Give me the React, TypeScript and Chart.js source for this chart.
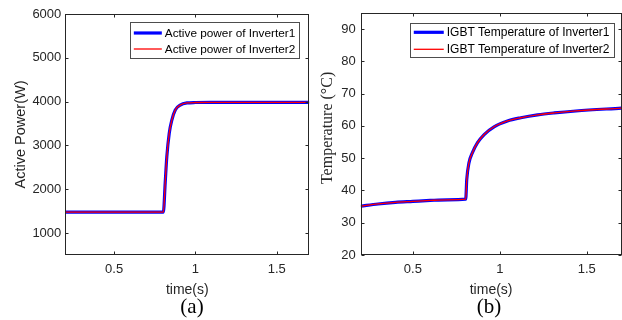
import React, { useEffect, useRef } from "react";
import { Chart, registerables } from "chart.js";

Chart.register(...registerables);

// ---------- data ----------
const powerTime = [0.2, 0.5, 0.803, 0.814, 0.824, 0.839, 0.855, 0.876, 0.906, 0.948, 1.0, 1.09, 1.4, 1.7];
const powerInv1 = [1480, 1480, 1480, 2140, 2740, 3280, 3580, 3810, 3920, 3970, 3980, 3983, 3983, 3983];
const powerInv2 = [1480, 1480, 1480, 2140, 2740, 3280, 3580, 3810, 3920, 3970, 3980, 3983, 3983, 3983];

const tempTime = [0.2, 0.3, 0.4, 0.5, 0.6, 0.7, 0.804, 0.81, 0.823, 0.842, 0.871, 0.91, 0.967, 1.044, 1.121, 1.217, 1.313, 1.438, 1.7];
const tempInv1 = [35.1, 35.8, 36.3, 36.6, 36.9, 37.1, 37.3, 43.4, 48.6, 51.6, 54.7, 57.3, 59.7, 61.5, 62.5, 63.4, 64.0, 64.6, 65.5];
const tempInv2 = [35.1, 35.8, 36.3, 36.6, 36.9, 37.1, 37.3, 43.4, 48.6, 51.6, 54.7, 57.3, 59.7, 61.5, 62.5, 63.4, 64.0, 64.6, 65.5];

const timeTicks = [0.5, 1, 1.5];
const powerTicks = [1000, 2000, 3000, 4000, 5000, 6000];
const tempTicks = [20, 30, 40, 50, 60, 70, 80, 90];

const powerLabels = ["Active power of Inverter1", "Active power of Inverter2"];
const tempLabels = ["IGBT Temperature of Inverter1", "IGBT Temperature of Inverter2"];

const SANS = '"Liberation Sans", Arial, Helvetica, sans-serif';
const SERIF = '"Liberation Serif", "Times New Roman", serif';
const AXIS = "#262626";

// ---------- plugins ----------
const framePlugin = {
  id: "frame",
  afterDraw(chart: any) {
    const { ctx, chartArea: a, scales } = chart;
    ctx.save();
    ctx.strokeStyle = AXIS;
    ctx.lineWidth = 1;
    const L = Math.round(a.left) + 0.5;
    const R = Math.round(a.right) - 0.5;
    const T = Math.round(a.top) + 0.5;
    const B = Math.round(a.bottom) - 0.5;
    ctx.strokeRect(L, T, R - L, B - T);
    const len = 3;
    ctx.beginPath();
    scales.x.ticks.forEach((t: any) => {
      const px = Math.round(scales.x.getPixelForValue(t.value)) + 0.5;
      ctx.moveTo(px, B);
      ctx.lineTo(px, B - len);
      ctx.moveTo(px, T);
      ctx.lineTo(px, T + len);
    });
    scales.y.ticks.forEach((t: any) => {
      const py = Math.round(scales.y.getPixelForValue(t.value)) + 0.5;
      ctx.moveTo(L, py);
      ctx.lineTo(L + len, py);
      ctx.moveTo(R, py);
      ctx.lineTo(R - len, py);
    });
    ctx.stroke();
    ctx.restore();
  },
};

const insideLegend = {
  id: "insideLegend",
  afterDraw(chart: any, _args: any, opts: any) {
    const { ctx, chartArea: a } = chart;
    ctx.save();
    ctx.font = `${opts.fontSize}px ${SANS}`;
    const ds = chart.data.datasets;
    const textW = Math.max(...ds.map((d: any) => ctx.measureText(d.label).width));
    const padL = 4, gap = 3, padR = 4;
    const w = padL + opts.sample + gap + textW + padR;
    const h = opts.height;
    const right = a.right - opts.right;
    const top = a.top + opts.top;
    const left = right - w;
    ctx.fillStyle = "#ffffff";
    ctx.fillRect(left, top, w, h);
    ctx.strokeStyle = "#4d4d4d";
    ctx.lineWidth = 1;
    ctx.strokeRect(Math.round(left) + 0.5, Math.round(top) + 0.5, Math.round(w), Math.round(h));
    ds.forEach((d: any, i: number) => {
      const y = top + opts.firstRow + i * opts.rowGap;
      ctx.beginPath();
      ctx.strokeStyle = d.borderColor;
      ctx.lineWidth = d.borderWidth;
      ctx.moveTo(left + padL, y);
      ctx.lineTo(left + padL + opts.sample, y);
      ctx.stroke();
      ctx.fillStyle = "#000000";
      ctx.textBaseline = "middle";
      ctx.textAlign = "left";
      ctx.fillText(d.label, left + padL + opts.sample + gap, y + 0.5);
    });
    ctx.restore();
  },
};

function makeConfig(p: {
  time: number[];
  s1: number[];
  s2: number[];
  labels: string[];
  yTicks: number[];
  yMin: number;
  yMax: number;
  yTitle: string;
  yTitleFont: any;
  yTitlePad: number;
  yWidth: number;
  yLabelPad: number;
  padding: any;
  xHeight: number;
  legend: any;
}) {
  const pts = (arr: number[]) => p.time.map((t, i) => ({ x: t, y: arr[i] }));
  return {
    type: "line",
    data: {
      datasets: [
        {
          label: p.labels[0],
          data: pts(p.s1),
          borderColor: "#0000ff",
          borderWidth: 3.2,
          pointRadius: 0,
          cubicInterpolationMode: "monotone",
          order: 1,
        },
        {
          label: p.labels[1],
          data: pts(p.s2),
          borderColor: "#ff0000",
          borderWidth: 1.3,
          pointRadius: 0,
          cubicInterpolationMode: "monotone",
          order: 0,
        },
      ],
    },
    options: {
      responsive: false,
      animation: false,
      events: [],
      layout: { padding: p.padding },
      plugins: {
        legend: { display: false },
        tooltip: { enabled: false },
        insideLegend: p.legend,
      },
      scales: {
        x: {
          type: "linear",
          min: 0.2,
          max: 1.7,
          grid: { display: false, drawTicks: false, tickLength: 0 },
          border: { display: false },
          afterBuildTicks: (s: any) => {
            s.ticks = timeTicks.map((v) => ({ value: v }));
          },
          afterFit: (s: any) => {
            s.height = p.xHeight;
          },
          ticks: {
            color: AXIS,
            font: { family: SANS, size: 13 },
            padding: 7,
            maxRotation: 0,
            autoSkip: false,
            callback: (v: any) => String(v),
          },
          title: {
            display: true,
            text: "time(s)",
            color: AXIS,
            font: { family: SANS, size: 14 },
            padding: { top: 0, bottom: 21 },
          },
        },
        y: {
          type: "linear",
          min: p.yMin,
          max: p.yMax,
          grid: { display: false, drawTicks: false, tickLength: 0 },
          border: { display: false },
          afterBuildTicks: (s: any) => {
            s.ticks = p.yTicks.map((v) => ({ value: v }));
          },
          afterFit: (s: any) => {
            s.width = p.yWidth;
          },
          ticks: {
            color: AXIS,
            font: { family: SANS, size: 13 },
            padding: p.yLabelPad,
            autoSkip: false,
            callback: (v: any) => String(v),
          },
          title: {
            display: true,
            text: p.yTitle,
            color: AXIS,
            font: p.yTitleFont,
            padding: { top: p.yTitlePad, bottom: 0 },
          },
        },
      },
    },
    plugins: [insideLegend, framePlugin],
  };
}

function ChartCanvas({ config, left, width }: { config: any; left: number; width: number }) {
  const ref = useRef<HTMLCanvasElement | null>(null);
  useEffect(() => {
    if (!ref.current) return;
    const chart = new Chart(ref.current, config);
    return () => chart.destroy();
  }, [config]);
  return (
    <canvas
      ref={ref}
      width={width}
      height={320}
      style={{ position: "absolute", left, top: 0, width, height: 320 }}
    />
  );
}

const powerConfig = makeConfig({
  time: powerTime,
  s1: powerInv1,
  s2: powerInv2,
  labels: powerLabels,
  yTicks: powerTicks,
  yMin: 500,
  yMax: 6000,
  yTitle: "Active Power(W)",
  yTitleFont: { family: SANS, size: 14.5 },
  yTitlePad: 12.5,
  yWidth: 65.3,
  yLabelPad: 4,
  padding: { left: 0, right: 1.7, top: 14, bottom: 0 },
  xHeight: 65,
  legend: { fontSize: 11.8, sample: 28, height: 36, top: 8, right: 10, firstRow: 11, rowGap: 16 },
});

const tempConfig = makeConfig({
  time: tempTime,
  s1: tempInv1,
  s2: tempInv2,
  labels: tempLabels,
  yTicks: tempTicks,
  yMin: 20,
  yMax: 95,
  yTitle: "   Temperature (°C)",
  yTitleFont: { family: SERIF, size: 16 },
  yTitlePad: 7,
  yWidth: 49.7,
  yLabelPad: 5,
  padding: { left: 0, right: 0.5, top: 10.5, bottom: 0 },
  xHeight: 65,
  legend: { fontSize: 12, sample: 30, height: 34, top: 10, right: 8, firstRow: 9.5, rowGap: 17 },
});

export default function App() {
  const capStyle: React.CSSProperties = {
    position: "absolute",
    top: 294,
    height: 24,
    lineHeight: "24px",
    width: 60,
    textAlign: "center",
    fontFamily: SERIF,
    fontSize: 21,
    color: "#000",
  };
  return (
    <div style={{ position: "absolute", left: 0, top: 0, width: 622, height: 320, background: "#fff", overflow: "hidden" }}>
      <ChartCanvas config={powerConfig} left={0} width={311} />
      <ChartCanvas config={tempConfig} left={311} width={311} />
      <div style={{ ...capStyle, left: 192 - 30 }}>(a)</div>
      <div style={{ ...capStyle, left: 489 - 30 }}>(b)</div>
    </div>
  );
}
